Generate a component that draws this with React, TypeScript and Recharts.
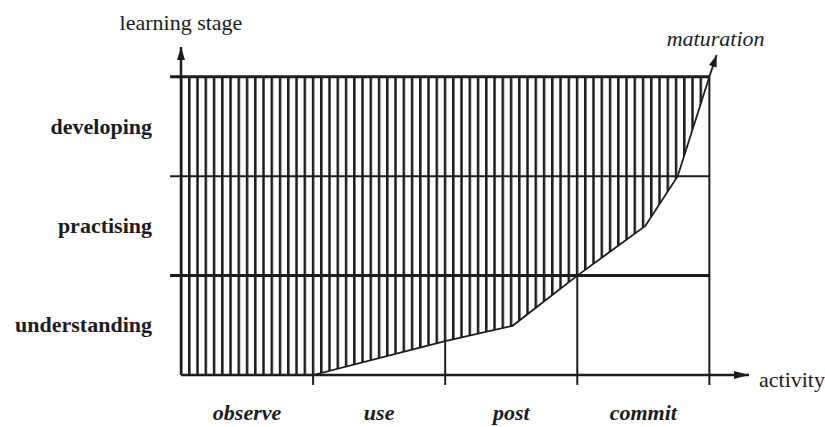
import React from 'react';
import { ComposedChart, Area, Line, XAxis, YAxis, ReferenceLine, ReferenceDot } from 'recharts';

// categories
const activities = ['observe', 'use', 'post', 'commit'];
const activityCenters = [0.5, 1.5, 2.5, 3.5];
const activityBoundaries = [1, 2, 3, 4];
const stages = ['understanding', 'practising', 'developing'];
const stageCenters = [0.5, 1.5, 2.5];
const stageBoundaries = [1, 2, 3];

// learning curve (x = activity, y = learning stage)
const curveX = [1, 2, 2.51, 3, 3.515, 3.76, 4.0, 4.055];
const curveY = [0, 0.34, 0.495, 1.0, 1.5, 2.0, 3.0, 3.22];
const curveEndLabel = 'maturation';

// hatched region: from the stage axis to the curve, under the top stage
const hatchX = [0, 1, 2, 2.51, 3, 3.515, 3.76, 4.0];
const hatchLow = [0, 0, 0.34, 0.495, 1.0, 1.5, 2.0, 3.0];
const hatchHigh = [3, 3, 3, 3, 3, 3, 3, 3];

const X_MAX = 4.3;
const Y_MAX = 3.3;
const GRID_LEFT = -0.083;
const TICK_BOTTOM = -0.1;

const curveData = curveX.map((x, i) => ({ x, y: curveY[i] }));
const hatchData = hatchX.map((x, i) => ({ x, range: [hatchLow[i], hatchHigh[i]] }));
const curveAt = (x: number) => {
  const i = curveX.indexOf(x);
  return i >= 0 ? curveY[i] : 0;
};

const INK = '#1c1c1c';
const FONT = "'Liberation Serif', 'Times New Roman', serif";

const StageTick = (props: any) => {
  const { x, y, payload } = props;
  const label = stages[stageCenters.indexOf(payload.value)];
  return (
    <text x={x} y={y + 7} textAnchor="end" fontFamily={FONT} fontSize={22} fontWeight="bold" fill={INK}>
      {label}
    </text>
  );
};

const ActivityTick = (props: any) => {
  const { x, y, payload } = props;
  const label = activities[activityCenters.indexOf(payload.value)];
  return (
    <text x={x} y={y + 45} textAnchor="middle" fontFamily={FONT} fontSize={22} fontWeight="bold" fontStyle="italic" fill={INK}>
      {label}
    </text>
  );
};

const arrowHead = (cx: number, cy: number, angle: number, len = 13, half = 4) => {
  const bx = cx - len * Math.cos(angle);
  const by = cy - len * Math.sin(angle);
  const nx = -Math.sin(angle);
  const ny = Math.cos(angle);
  return `M${cx},${cy} L${bx + half * nx},${by + half * ny} L${bx - half * nx},${by - half * ny} Z`;
};

const XArrow = (props: any) => {
  const { cx, cy } = props;
  return (
    <g>
      <path d={arrowHead(cx, cy, 0, 15, 4)} fill={INK} />
      <text x={cx + 10} y={cy + 12} fontFamily={FONT} fontSize={22} fill={INK}>activity</text>
    </g>
  );
};

const YArrow = (props: any) => {
  const { cx, cy } = props;
  return (
    <g>
      <path d={arrowHead(cx, cy, -Math.PI / 2, 13, 4)} fill={INK} />
      <text x={cx} y={cy - 17} textAnchor="middle" fontFamily={FONT} fontSize={22} fill={INK}>learning stage</text>
    </g>
  );
};

const EndLabel = (props: any) => {
  const { cx, cy } = props;
  return (
    <text x={cx - 1} y={cy - 9} textAnchor="middle" fontFamily={FONT} fontSize={22} fontStyle="italic" fill={INK}>
      {curveEndLabel}
    </text>
  );
};

const CurveDot = (props: any) => {
  const { cx, cy, index, points } = props;
  if (index !== curveX.length - 1) return <g key={`dot-${index}`} />;
  let angle = Math.atan2(-121, 39);
  if (points && points[index - 1]) {
    const p = points[index - 1];
    angle = Math.atan2(cy - p.y, cx - p.x);
  }
  return (
    <g key={`dot-${index}`}>
      <path d={arrowHead(cx, cy, angle, 12, 4)} fill={INK} />
    </g>
  );
};

export default function App() {
  const last = curveX.length - 1;
  return (
    <div style={{ position: 'absolute', left: 0, top: 0, width: 825, height: 427, background: '#fff' }}>
      <ComposedChart width={825} height={427} margin={{ top: 47, right: 76, bottom: 0, left: 0 }}>
        <defs>
          <pattern id="stripes" patternUnits="userSpaceOnUse" x={179.8} y={0} width={8.25} height={10}>
            <rect x={0} y={0} width={2.5} height={10} fill={INK} />
          </pattern>
        </defs>
        <XAxis
          dataKey="x"
          type="number"
          domain={[0, X_MAX]}
          ticks={activityCenters}
          interval={0}
          height={52}
          tickSize={0}
          tickMargin={0}
          tickLine={false}
          axisLine={{ stroke: INK, strokeWidth: 2.5 }}
          tick={ActivityTick}
          allowDataOverflow
        />
        <YAxis
          type="number"
          domain={[0, Y_MAX]}
          ticks={stageCenters}
          interval={0}
          width={181}
          tickSize={0}
          tickMargin={29}
          tickLine={false}
          axisLine={{ stroke: INK, strokeWidth: 2.5 }}
          tick={StageTick}
          allowDataOverflow
        />
        <Area
          data={hatchData}
          dataKey="range"
          type="linear"
          stroke="none"
          fill="url(#stripes)"
          fillOpacity={1}
          isAnimationActive={false}
        />
        {stageBoundaries.map((y) => (
          <ReferenceLine
            key={`h${y}`}
            segment={[{ x: GRID_LEFT, y }, { x: activityBoundaries[activityBoundaries.length - 1], y }]}
            stroke={INK}
            strokeWidth={y === 2 ? 2 : 3}
            ifOverflow="visible"
          />
        ))}
        {activityBoundaries.map((x) => (
          <ReferenceLine
            key={`v${x}`}
            segment={[{ x, y: TICK_BOTTOM }, { x, y: x === activityBoundaries[activityBoundaries.length - 1] ? stageBoundaries[stageBoundaries.length - 1] : curveAt(x) }]}
            stroke={INK}
            strokeWidth={2}
            ifOverflow="visible"
          />
        ))}
        <Line
          data={curveData}
          dataKey="y"
          type="linear"
          stroke={INK}
          strokeWidth={1.8}
          dot={CurveDot}
          activeDot={false}
          isAnimationActive={false}
        />
        <ReferenceDot x={curveX[last]} y={curveY[last]} r={0} ifOverflow="visible" shape={EndLabel} />
        <ReferenceDot x={X_MAX} y={0} r={0} ifOverflow="visible" shape={XArrow} />
        <ReferenceDot x={0} y={Y_MAX} r={0} ifOverflow="visible" shape={YArrow} />
      </ComposedChart>
    </div>
  );
}
